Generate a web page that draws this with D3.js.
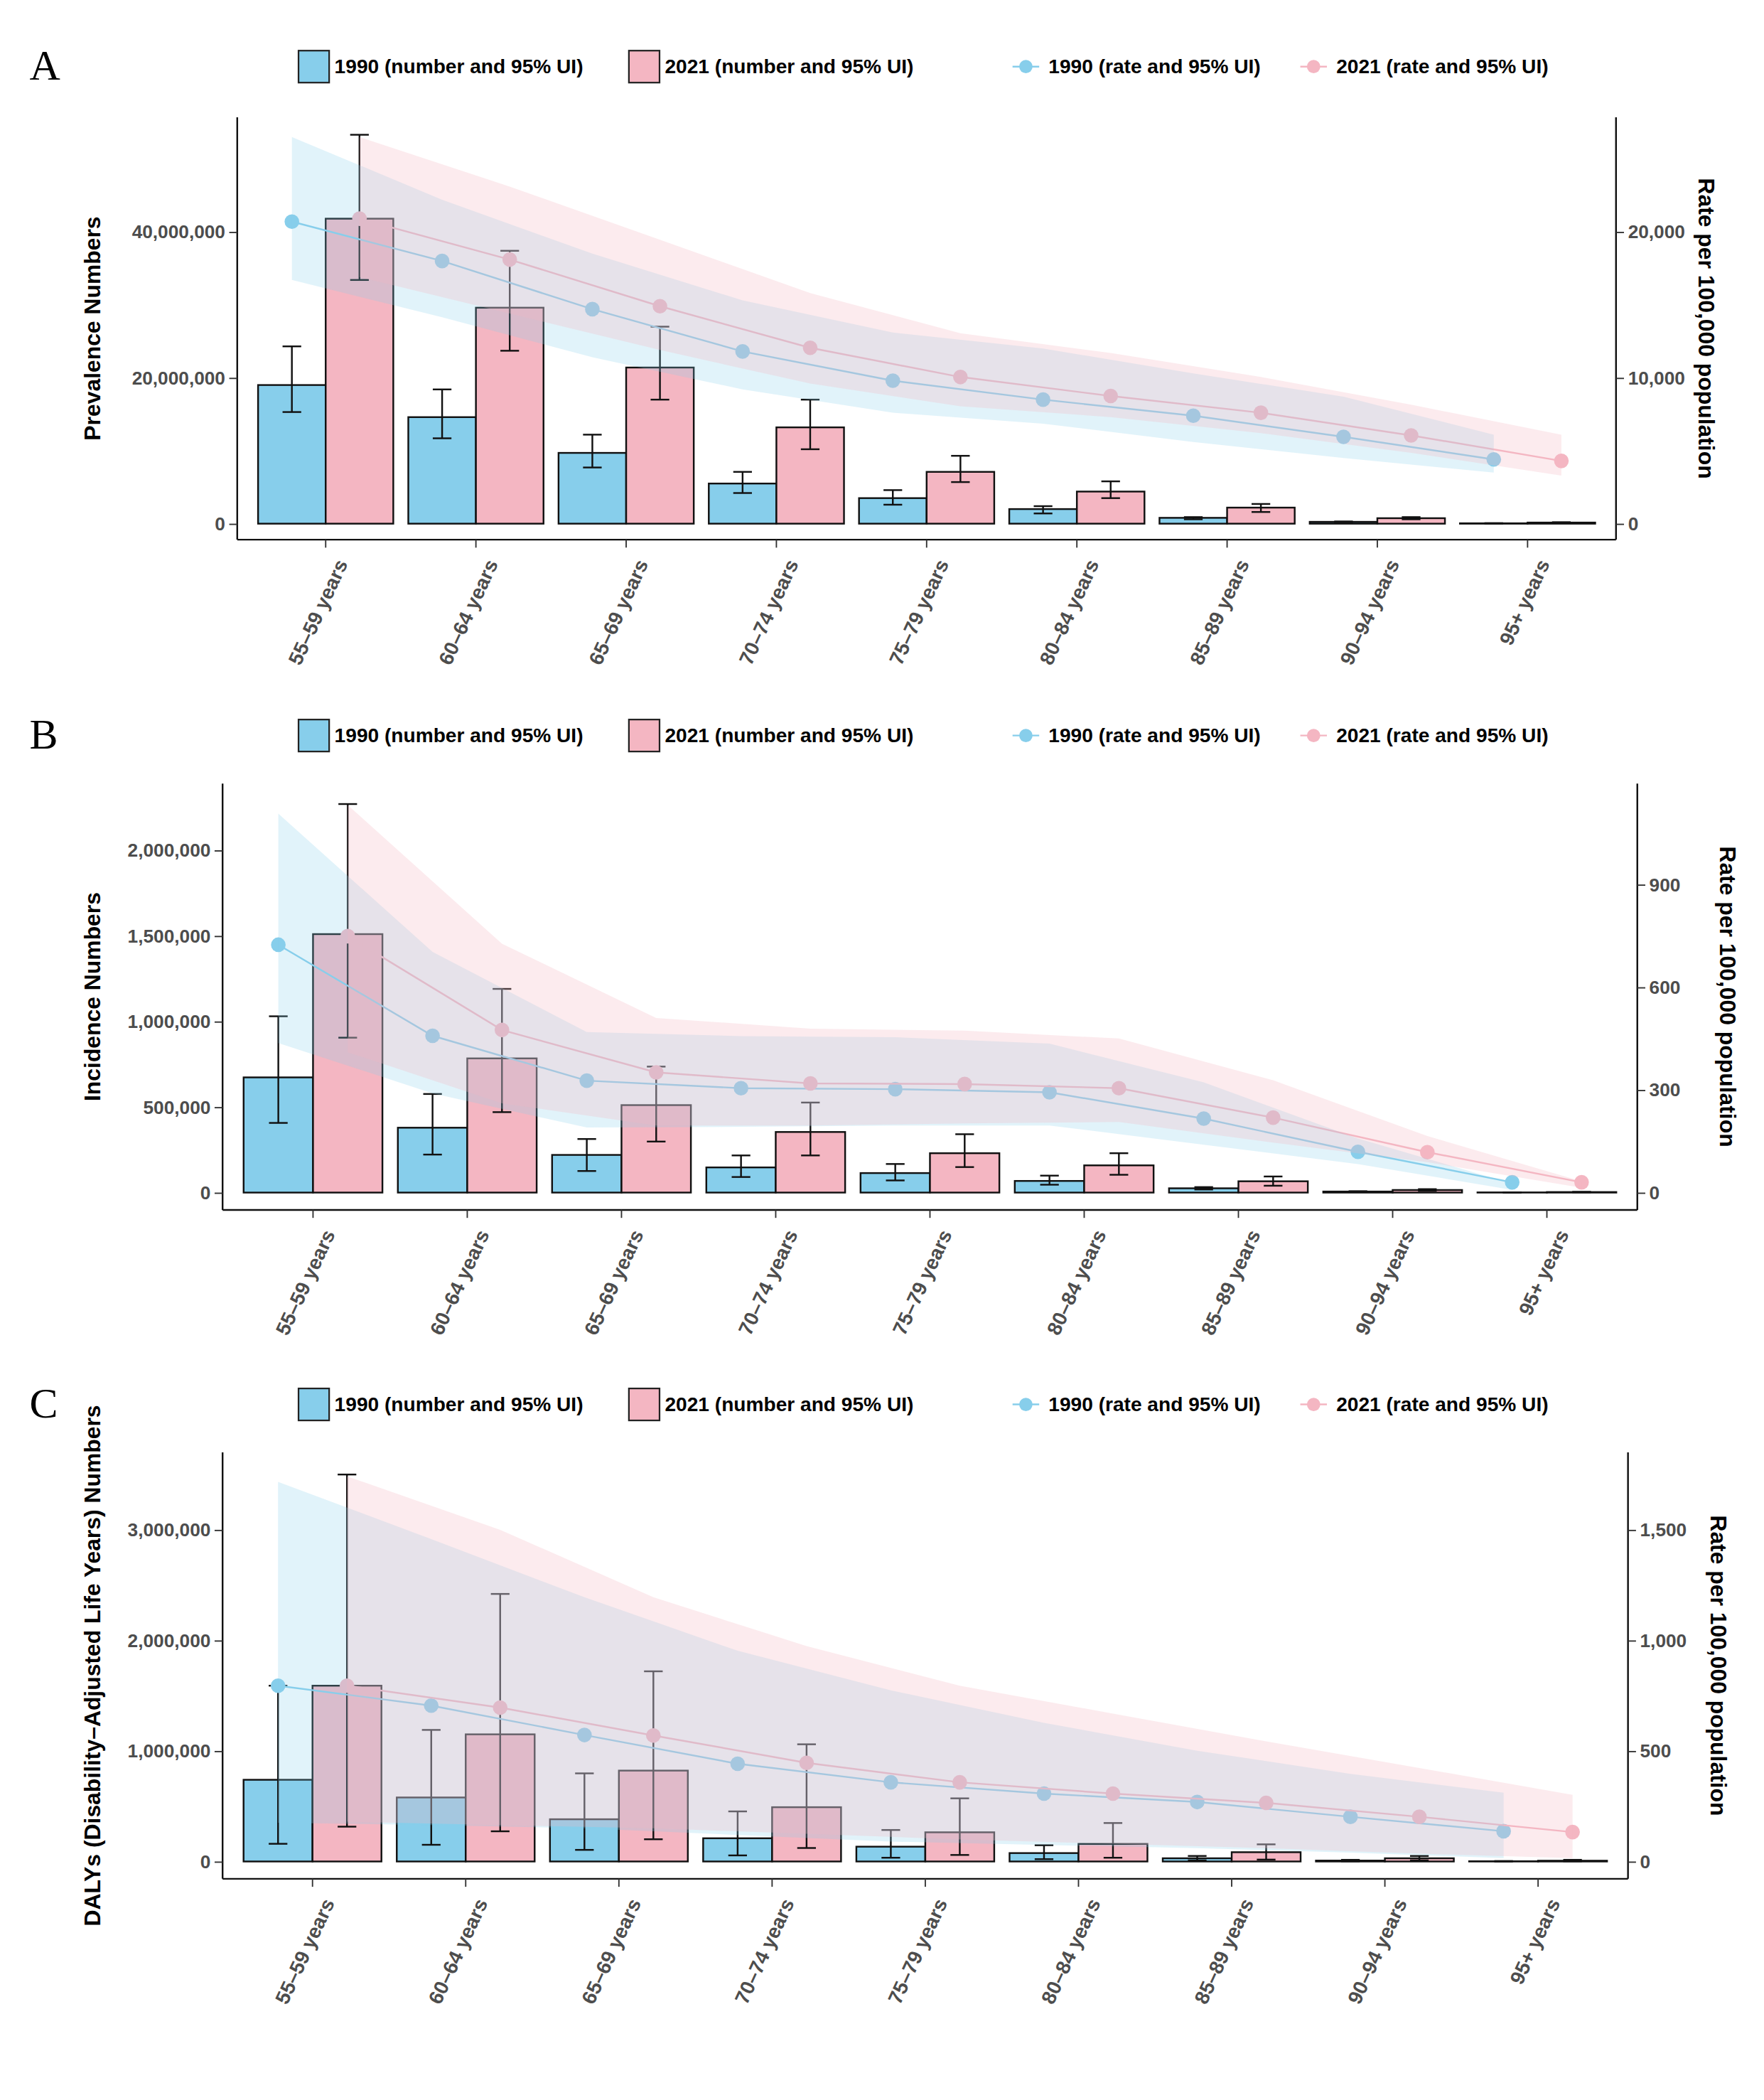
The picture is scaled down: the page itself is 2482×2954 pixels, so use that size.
<!DOCTYPE html>
<html><head><meta charset="utf-8">
<script src="https://cdn.jsdelivr.net/npm/d3@7"></script>
<style>body{margin:0;background:#fff}</style>
</head><body>
<div id="chart"></div>
<script>
var ages = ["55\u201359 years","60\u201364 years","65\u201369 years","70\u201374 years","75\u201379 years","80\u201384 years","85\u201389 years","90\u201394 years","95+ years"];

// Panel A: prevalence
var prevNum1990 = [19.0e6,14.6e6,9.7e6,5.5e6,3.5e6,2.0e6,0.8e6,0.25e6,0.05e6];
var prevLo1990  = [15.3e6,11.7e6,7.7e6,4.2e6,2.6e6,1.4e6,0.6e6,0.2e6,0.03e6];
var prevHi1990  = [24.3e6,18.4e6,12.2e6,7.1e6,4.6e6,2.4e6,0.9e6,0.3e6,0.07e6];
var prevNum2021 = [41.8e6,29.6e6,21.4e6,13.2e6,7.1e6,4.4e6,2.2e6,0.75e6,0.15e6];
var prevLo2021  = [33.4e6,23.7e6,17.0e6,10.2e6,5.7e6,3.5e6,1.6e6,0.6e6,0.1e6];
var prevHi2021  = [53.3e6,37.4e6,27.0e6,17.0e6,9.3e6,5.8e6,2.7e6,0.9e6,0.2e6];
var prevRate1990 = [20700,18000,14700,11800,9800,8500,7400,5950,4400];
var prevRLo1990  = [16700,14150,11400,9200,7600,6850,5600,4500,3500];
var prevRHi1990  = [26500,22200,18500,15300,13100,12000,10300,8700,6100];
var prevRate2021 = [20900,18100,14900,12050,10050,8750,7600,6050,4300];
var prevRLo2021  = [16900,14400,11900,9600,8050,7300,6200,4850,3300];
var prevRHi2021  = [26500,23100,19450,15800,13050,11700,10050,8150,6100];

// Panel B: incidence
var incNum1990 = [673e3,379e3,220e3,147e3,114e3,68e3,25e3,6e3,1e3];
var incLo1990  = [407e3,222e3,126e3,91e3,71e3,46e3,18e3,4e3,0.5e3];
var incHi1990  = [1030e3,576e3,313e3,217e3,167e3,99e3,32e3,8e3,1.5e3];
var incNum2021 = [1510e3,784e3,511e3,354e3,230e3,159e3,66e3,15e3,3e3];
var incLo2021  = [905e3,470e3,298e3,217e3,149e3,104e3,40e3,10e3,2e3];
var incHi2021  = [2270e3,1190e3,736e3,526e3,341e3,230e3,94e3,20e3,4e3];
var incRate1990 = [724,458,327,305,302,293,216,119,30];
var incRLo1990  = [437,290,190,192,196,196,140,83,8];
var incRHi1990  = [1107,703,469,457,454,435,322,158,26];
var incRate2021 = [749,475,351,319,317,305,219,118,30];
var incRLo2021  = [410,261,196,196,202,206,146,89,14];
var incRHi2021  = [1132,727,510,479,473,450,328,165,33];

// Panel C: DALYs
var dalyNum1990 = [739e3,579e3,382e3,210e3,134e3,76e3,29e3,8e3,2e3];
var dalyLo1990  = [160e3,151e3,105e3,55e3,34e3,21e3,10e3,2e3,0.5e3];
var dalyHi1990  = [1590e3,1190e3,797e3,453e3,285e3,147e3,50e3,15e3,4e3];
var dalyNum2021 = [1590e3,1150e3,822e3,491e3,264e3,159e3,84e3,29e3,7e3];
var dalyLo2021  = [315e3,273e3,201e3,122e3,59e3,34e3,17e3,10e3,2e3];
var dalyHi2021  = [3500e3,2420e3,1720e3,1060e3,571e3,348e3,155e3,50e3,15e3];
var dalyRate1990 = [795,705,572,442,358,307,269,202,137];
var dalyRLo1990  = [175,165,150,120,90,75,60,40,15];
var dalyRHi1990  = [1717,1458,1195,953,774,627,501,396,311];
var dalyRate2021 = [795,696,570,446,358,307,265,202,133];
var dalyRLo2021  = [180,165,150,125,100,80,60,35,15];
var dalyRHi2021  = [1742,1500,1195,974,795,669,543,423,301];

var panels = [
  {tag:"A", ylab:"Prevalence Numbers", legY:50, left:178, right:1213, top:88, bottom:405,
   yMax:55.7e6, yTicks:[0,20e6,40e6], rMax:27850, rTicks:[0,10000,20000], zeroY:393,
   n90:prevNum1990,lo90:prevLo1990,hi90:prevHi1990,n21:prevNum2021,lo21:prevLo2021,hi21:prevHi2021,
   r90:prevRate1990,rl90:prevRLo1990,rh90:prevRHi1990,r21:prevRate2021,rl21:prevRLo2021,rh21:prevRHi2021},
  {tag:"B", ylab:"Incidence Numbers", legY:552, left:167, right:1229, top:588, bottom:908,
   yMax:2.39e6, yTicks:[0,500e3,1000e3,1500e3,2000e3], rMax:1195, rTicks:[0,300,600,900], zeroY:895,
   n90:incNum1990,lo90:incLo1990,hi90:incHi1990,n21:incNum2021,lo21:incLo2021,hi21:incHi2021,
   r90:incRate1990,rl90:incRLo1990,rh90:incRHi1990,r21:incRate2021,rl21:incRLo2021,rh21:incRHi2021},
  {tag:"C", ylab:"DALYs (Disability\u2013Adjusted Life Years) Numbers", legY:1054, left:167, right:1222, top:1090, bottom:1410,
   yMax:3.7e6, yTicks:[0,1e6,2e6,3e6], rMax:1850, rTicks:[0,500,1000,1500], zeroY:1397,
   n90:dalyNum1990,lo90:dalyLo1990,hi90:dalyHi1990,n21:dalyNum2021,lo21:dalyLo2021,hi21:dalyHi2021,
   r90:dalyRate1990,rl90:dalyRLo1990,rh90:dalyRHi1990,r21:dalyRate2021,rl21:dalyRLo2021,rh21:dalyRHi2021}
];

var blue = "#87CEEB", pink = "#F4B6C2";
var fmt = d3.format(",");

var svg = d3.select("#chart").append("svg")
  .attr("width", 2482).attr("height", 2954)
  .attr("viewBox", "0 0 1324 1576")
  .style("font-family", "'Liberation Sans', Arial, sans-serif");

panels.forEach(function(p){
  var g = svg.append("g");
  var pad = (p.right - p.left) * 0.0;
  var x = d3.scaleBand().domain(ages).range([p.left + 10, p.right - 10]).paddingInner(0.1).paddingOuter(0.05);
  var bw = x.bandwidth() / 2;
  var y = d3.scaleLinear().domain([0, p.yMax]).range([p.zeroY, p.top]);
  var yr = d3.scaleLinear().domain([0, p.rMax]).range([p.zeroY, p.top]);
  var x90 = function(i){ return x(ages[i]) + bw/2; };
  var x21 = function(i){ return x(ages[i]) + bw*1.5; };
  var idx = d3.range(ages.length);

  // panel letter
  g.append("text").attr("x", 22).attr("y", p.legY + 10).text(p.tag)
    .style("font-family", "'Liberation Serif', 'Times New Roman', serif").style("font-size", "32px");

  // legend
  var lg = g.append("g").attr("transform", "translate(0," + p.legY + ")").style("font-size", "15px").style("font-weight", "bold");
  var bl = [{x:224, c:blue, t:"1990 (number and 95% UI)"}, {x:472, c:pink, t:"2021 (number and 95% UI)"}];
  bl.forEach(function(b){
    lg.append("rect").attr("x", b.x).attr("y", -12).attr("width", 23).attr("height", 24).attr("fill", b.c).attr("stroke", "#222").attr("stroke-width", 1.2);
    lg.append("text").attr("x", b.x + 27).attr("y", 5).text(b.t);
  });
  var ll = [{x:760, c:blue, t:"1990 (rate and 95% UI)"}, {x:976, c:pink, t:"2021 (rate and 95% UI)"}];
  ll.forEach(function(b){
    lg.append("line").attr("x1", b.x).attr("x2", b.x + 20).attr("y1", 0).attr("y2", 0).attr("stroke", b.c).attr("stroke-width", 1.3);
    lg.append("circle").attr("cx", b.x + 10).attr("cy", 0).attr("r", 5).attr("fill", b.c);
    lg.append("text").attr("x", b.x + 27).attr("y", 5).text(b.t);
  });

  // bars
  g.selectAll(".b90").data(idx).enter().append("rect")
    .attr("x", function(i){ return x(ages[i]); }).attr("width", bw)
    .attr("y", function(i){ return y(p.n90[i]); }).attr("height", function(i){ return y(0) - y(p.n90[i]); })
    .attr("fill", blue).attr("stroke", "#111").attr("stroke-width", 1.3);
  g.selectAll(".b21").data(idx).enter().append("rect")
    .attr("x", function(i){ return x(ages[i]) + bw; }).attr("width", bw)
    .attr("y", function(i){ return y(p.n21[i]); }).attr("height", function(i){ return y(0) - y(p.n21[i]); })
    .attr("fill", pink).attr("stroke", "#111").attr("stroke-width", 1.3);

  // error bars
  function errs(xf, lo, hi){
    idx.forEach(function(i){
      var cx = xf(i), e = g.append("g").attr("stroke", "#111").attr("stroke-width", 1.3);
      e.append("line").attr("x1", cx).attr("x2", cx).attr("y1", y(lo[i])).attr("y2", y(hi[i]));
      e.append("line").attr("x1", cx-7).attr("x2", cx+7).attr("y1", y(lo[i])).attr("y2", y(lo[i]));
      e.append("line").attr("x1", cx-7).attr("x2", cx+7).attr("y1", y(hi[i])).attr("y2", y(hi[i]));
    });
  }
  errs(x90, p.lo90, p.hi90);
  errs(x21, p.lo21, p.hi21);

  // rate lines and points
  function rateLine(xf, r, c){
    g.append("path").datum(idx).attr("fill", "none").attr("stroke", c).attr("stroke-width", 1.3)
      .attr("d", d3.line().x(function(i){ return xf(i); }).y(function(i){ return yr(r[i]); }));
    g.selectAll(null).data(idx).enter().append("circle")
      .attr("cx", function(i){ return xf(i); }).attr("cy", function(i){ return yr(r[i]); })
      .attr("r", 5.5).attr("fill", c);
  }
  rateLine(x90, p.r90, blue);
  rateLine(x21, p.r21, pink);

  // ribbons on top
  function ribbon(xf, lo, hi, c, op){
    g.append("path").datum(idx).attr("fill", c).attr("opacity", op)
      .attr("d", d3.area().x(function(i){ return xf(i); }).y0(function(i){ return yr(lo[i]); }).y1(function(i){ return yr(hi[i]); }));
  }
  ribbon(x90, p.rl90, p.rh90, blue, 0.25);
  ribbon(x21, p.rl21, p.rh21, pink, 0.28);

  // axes
  var axL = g.append("g").attr("transform", "translate(" + p.left + ",0)")
    .call(d3.axisLeft(y).tickValues(p.yTicks).tickFormat(fmt).tickSizeOuter(0));
  var axR = g.append("g").attr("transform", "translate(" + p.right + ",0)")
    .call(d3.axisRight(yr).tickValues(p.rTicks).tickFormat(fmt).tickSizeOuter(0));
  var axB = g.append("g").attr("transform", "translate(0," + p.bottom + ")")
    .call(d3.axisBottom(x).tickSizeOuter(0));
  [axL, axR, axB].forEach(function(a){
    a.select(".domain").attr("stroke", "#111").attr("stroke-width", 1.3);
    a.selectAll(".tick line").attr("stroke", "#333");
    a.selectAll("text").attr("fill", "#4d4d4d").style("font-size", "14px").style("font-weight", "bold")
      .style("font-family", "'Liberation Sans', Arial, sans-serif");
  });
  // extend vertical domains to plot box
  axL.select(".domain").attr("d", "M0," + p.top + "V" + p.bottom);
  axR.select(".domain").attr("d", "M0," + p.top + "V" + p.bottom);
  axB.select(".domain").attr("d", "M" + p.left + ",0H" + p.right);
  axB.selectAll("text").attr("text-anchor", "end").attr("dy", "0.35em")
    .attr("transform", "translate(4,12) rotate(-65)").style("font-size", "15px");

  // axis titles
  var ly = (p.top + p.bottom) / 2;
  g.append("text").attr("transform", "translate(75," + ly + ") rotate(-90)")
    .attr("text-anchor", "middle").text(p.ylab).style("font-size", "17px").style("font-weight", "bold");
  g.append("text").attr("transform", "translate(" + (p.right + 62) + "," + ly + ") rotate(90)")
    .attr("text-anchor", "middle").text("Rate per 100,000 population").style("font-size", "17px").style("font-weight", "bold");
});
</script>
</body></html>
